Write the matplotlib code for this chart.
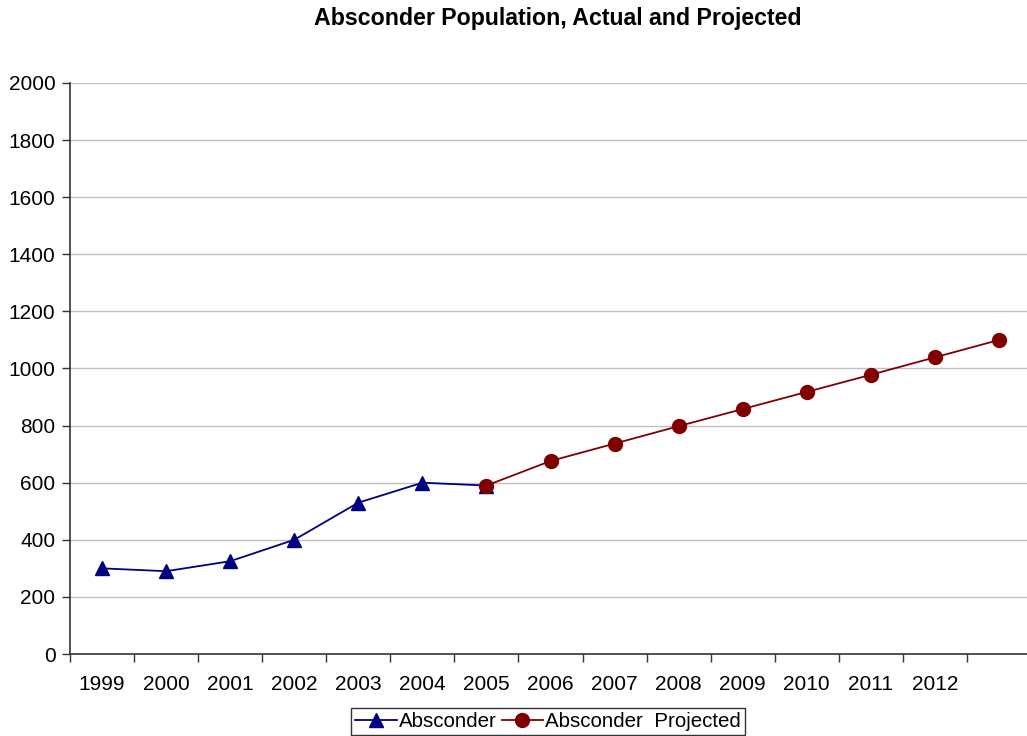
import matplotlib
matplotlib.use("Agg")
import matplotlib.pyplot as plt
import numpy as np

plt.rcParams['font.family'] = ['Liberation Sans', 'DejaVu Sans']

years = ["1999", "2000", "2001", "2002", "2003", "2004", "2005",
         "2006", "2007", "2008", "2009", "2010", "2011", "2012", ""]
actual = [300, 290, 325, 400, 530, 600, 590]
projected = [590, 676, 737, 798, 858, 918, 978, 1039, 1100]

x = np.arange(len(years))
x_actual = x[:len(actual)]
x_proj = x[len(actual) - 1:len(actual) - 1 + len(projected)]

fig = plt.figure(figsize=(10.27, 7.36), dpi=100)
ax = fig.add_axes([70 / 1027, 82 / 736, 961 / 1027, 571 / 736])

ax.plot(x_actual, actual, color="#000080", lw=1.3, marker="^", ms=10,
        markerfacecolor="#000080", markeredgecolor="#000080",
        label="Absconder", zorder=3, clip_on=False)
ax.plot(x_proj, projected, color="#800000", lw=1.3, marker="o", ms=10,
        markerfacecolor="#800000", markeredgecolor="#800000",
        label="Absconder  Projected", zorder=4, clip_on=False)

ax.set_xlim(-0.5, len(years) - 0.5)
ax.set_ylim(0, 2000)
ax.set_yticks(np.arange(0, 2001, 200))
ax.yaxis.grid(True, color="#c0c0c0", lw=1)
ax.set_axisbelow(True)

# category boundaries carry the tick marks, labels sit at the centres
ax.set_xticks(np.arange(-0.5, len(years), 1.0))
ax.set_xticklabels([])
ax.set_xticks(x, minor=True)
ax.set_xticklabels(years, minor=True)
ax.tick_params(axis="x", which="major", direction="out", length=6,
               width=1, color="#333333")
ax.tick_params(axis="x", which="minor", length=0, pad=15, labelsize=15)
ax.tick_params(axis="y", direction="out", length=6, width=1,
               color="#333333", pad=4.5, labelsize=15)

for side in ("top", "right"):
    ax.spines[side].set_visible(False)
for side in ("left", "bottom"):
    ax.spines[side].set_color("#333333")
    ax.spines[side].set_linewidth(1.2)

fig.text(558 / 1027, 1 - 19 / 736, "Absconder Population, Actual and Projected",
         ha="center", va="center", fontsize=16.7, fontweight="bold")

leg = fig.legend(loc="upper center", bbox_to_anchor=(548 / 1027, 1 - 708 / 736),
                 ncol=2, fontsize=14.8, frameon=True, fancybox=False,
                 edgecolor="black", borderpad=0.2, columnspacing=0.25,
                 handletextpad=0.1, handlelength=2.0, borderaxespad=0)
leg.get_frame().set_linewidth(1.0)

fig.savefig("out.png", dpi=100)
